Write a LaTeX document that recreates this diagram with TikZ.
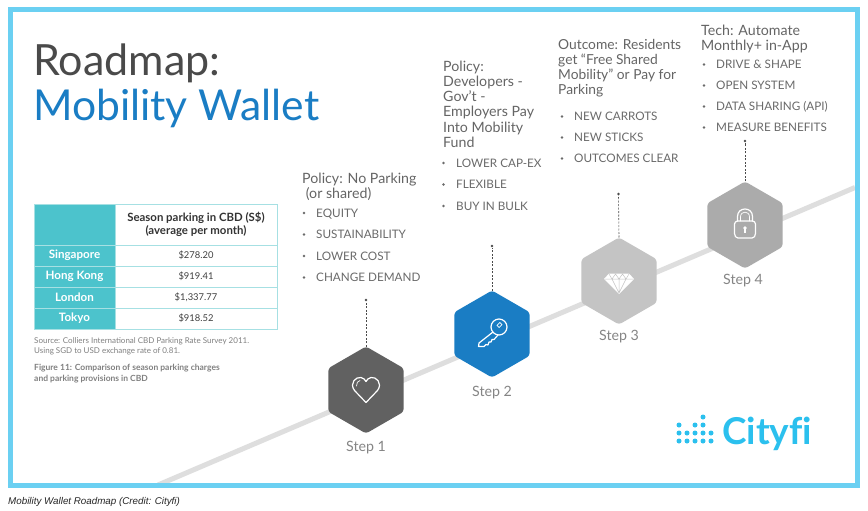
\documentclass[tikz,border=0pt]{standalone}
\usepackage{fontspec}
\setmainfont{Lato}
\newfontfamily\capfont{Liberation Sans}
\usetikzlibrary{shapes.geometric}
\definecolor{frameblue}{HTML}{6BD0F2}
\definecolor{titleblue}{HTML}{1A7DC4}
\definecolor{ink}{HTML}{4A4A4A}
\definecolor{itemink}{HTML}{6A6A6A}
\definecolor{stepgrey}{HTML}{858585}
\definecolor{teal}{HTML}{4CC3CC}
\definecolor{teallight}{HTML}{A6E0E3}
\definecolor{logoblue}{HTML}{2BC0EE}
\tikzset{
  x=1pt,y=-1pt,
  hexa/.style={regular polygon,regular polygon sides=6,shape border rotate=30,minimum size=87pt,inner sep=0pt,outer sep=0pt,fill=#1,rounded corners=3pt},
  head/.style={anchor=base west,font=\fontsize{14.2}{16}\selectfont,text=ink!85,inner sep=0pt},
  headb/.style={head,font=\fontsize{13.8}{16}\selectfont},
  item/.style={anchor=base west,font=\fontsize{11.7}{14}\selectfont,text=itemink,inner sep=0pt},
  itemdot/.style={anchor=center,circle,fill=itemink,inner sep=0pt,minimum size=2.6pt},
  steplabel/.style={anchor=base,font=\fontsize{14.2}{16}\selectfont,text=stepgrey,inner sep=0pt},
  dashline/.style={draw=ink,line width=0.6pt,dash pattern=on 2pt off 1.5pt},
  dotend/.style={circle,fill=ink,inner sep=0pt,minimum size=2.6pt},
  road/.style={draw=black!13,line width=5pt},
  icon/.style={draw=white,line width=1.2pt,line join=round,line cap=round},
  cell/.style={rectangle,draw=teallight,line width=1pt,anchor=north west,inner sep=0pt,outer sep=0pt,align=center},
  rowhead/.style={cell,fill=teal,minimum width=81pt,minimum height=21pt,text=white,font=\bfseries\fontsize{11.6}{13}\selectfont},
  rowval/.style={cell,minimum width=162pt,minimum height=21pt,text=black!75,font=\fontsize{9.4}{11}\selectfont},
  note/.style={anchor=base west,inner sep=0pt,text=black!50,font=\fontsize{8}{9}\selectfont},
  notebold/.style={note,font=\bfseries\fontsize{8.5}{9}\selectfont},
  logodot/.style={fill=logoblue},
}
\newcommand{\bul}[5]{%
  \node[itemdot] (#1d) at (#2,#4-4) {};
  \node[item] (#1t) at (#3,#4) {#5};}
\begin{document}
\begin{tikzpicture}
\useasboundingbox (0,0) rectangle (868,511);
\fill[white] (0,0) rectangle (868,511);
% road
\coordinate (roadA) at (158,485);
\coordinate (roadB) at (855,187.5);
\draw[road] (roadA) -- (roadB);
% frame
\draw[frameblue,line width=5.5pt] (10.7,9.7) rectangle (857.3,485.5);
% title
\node[anchor=base west,inner sep=0pt,font=\fontsize{43}{44}\selectfont,text=ink] (t1) at (33,76) {Roadmap:};
\node[anchor=base west,inner sep=0pt,font=\fontsize{42.6}{44}\selectfont,text=titleblue] (t2) at (33,121) {Mobility Wallet};
% table
\node[cell,fill=teal,minimum width=81pt,minimum height=41pt] (c0) at (34,204) {};
\node[cell,minimum width=162pt,minimum height=41pt,text=black!80,font=\bfseries\fontsize{11.4}{13}\selectfont] (h0) at (115,204) {Season parking in CBD (S\$)\\(average per month)};
\node[rowhead] (r1) at (34,245) {Singapore};
\node[rowval] (v1) at (115,245) {\$278.20};
\node[rowhead] (r2) at (34,266) {Hong Kong};
\node[rowval] (v2) at (115,266) {\$919.41};
\node[rowhead] (r3) at (34,287) {London};
\node[rowval] (v3) at (115,287) {\$1,337.77};
\node[rowhead] (r4) at (34,308) {Tokyo};
\node[rowval] (v4) at (115,308) {\$918.52};
\node[note] (n1) at (34,343) {Source: Colliers International CBD Parking Rate Survey 2011.};
\node[note] (n2) at (34,353) {Using SGD to USD exchange rate of 0.81.};
\node[notebold] (n3) at (34,370) {Figure 11: Comparison of season parking charges};
\node[notebold] (n4) at (34,381) {and parking provisions in CBD};
% hexagons
\node[hexa=black!62] (s1) at (366,390) {};
\node[hexa=titleblue] (s2) at (492,334) {};
\node[hexa=black!23] (s3) at (619,281) {};
\node[hexa=black!33] (s4) at (745,225) {};
% dashed connectors
\node[dotend] (p1) at (366,300) {};
\node[dotend] (p2) at (492,246) {};
\node[dotend] (p3) at (618.5,194) {};
\node[dotend] (p4) at (745,141) {};
\draw[dashline] (s1.north) -- (p1);
\draw[dashline] (s2.north) -- (p2);
\draw[dashline] (s3.north) -- (p3);
\draw[dashline] (s4.north) -- (p4);
% step labels
\node[steplabel] (l1) at (366,451) {Step 1};
\node[steplabel] (l2) at (492,396) {Step 2};
\node[steplabel] (l3) at (619,340) {Step 3};
\node[steplabel] (l4) at (743,284) {Step 4};
% heart
\draw[icon] (366,402.5) -- (354.5,390.5) .. controls (349,383) and (356,376.5) .. (361,377.5) .. controls (363.5,378) and (365,379.5) .. (366,381.5) .. controls (367,379.5) and (368.5,378) .. (371,377.5) .. controls (376,376.5) and (383,383) .. (377.5,390.5) -- cycle;
\draw[icon,line width=.7pt] (356.5,386) .. controls (356.2,383) and (358,381) .. (360,380.5);
% key
\draw[icon] (499,327) circle[radius=8pt];
\draw[icon,line width=.8pt,rotate around={45:(499.5,325)}] (497.5,323.5) rectangle (501.5,326.5);
\draw[icon] (493,332) -- (479,343) -- (478.5,346.5) -- (484,346.5) -- (486,344.5) -- (488,345) -- (489,342) -- (491,342) -- (492,339.5) -- (494,339.5) -- (498,335);
% diamond
\fill[white] (609,273.5) -- (629,273.5) -- (634,279) -- (619,294) -- (604,279) -- cycle;
\draw[black!23,line width=.5pt] (604.5,279) -- (633.5,279) (612,279) -- (619,293) (619,279) -- (619,293) (626,279) -- (619,293) (609,274) -- (612,279) -- (615.5,274) -- (619,279) -- (622.5,274) -- (626,279) -- (629,274);
% lock
\draw[icon] (737.5,221) -- (752.5,221) .. controls (754,221) and (755.5,222.5) .. (755.5,224) -- (755.5,233.5) .. controls (755.5,236) and (754,238) .. (752,238) -- (738,238) .. controls (736,238) and (734.5,236) .. (734.5,233.5) -- (734.5,224) .. controls (734.5,222.5) and (736,221) .. (737.5,221) -- cycle;
\draw[icon] (737.5,221) -- (737.5,216.5) .. controls (737.5,206.5) and (752.5,206.5) .. (752.5,216.5) -- (752.5,221);
\draw[icon,line width=.7pt] (740.5,221) -- (740.5,217) .. controls (740.5,210.5) and (749.5,210.5) .. (749.5,217) -- (749.5,221);
\fill[white] (745,228) circle[radius=1.8pt];
\fill[white] (744.2,228) rectangle (745.8,232.5);
% step 1 text
\node[head] (a1) at (302,183) {Policy: No Parking};
\node[head] (a2) at (302,198.5) {\ (or shared)};
\bul{a3}{304}{316}{217}{EQUITY}
\bul{a4}{304}{316}{238.5}{SUSTAINABILITY}
\bul{a5}{304}{316}{260}{LOWER COST}
\bul{a6}{304}{316}{281.5}{CHANGE DEMAND}
% step 2 text
\node[head] (b1) at (443,71) {Policy:};
\node[head] (b2) at (443,86.5) {Developers -};
\node[head] (b3) at (443,102) {Gov’t -};
\node[head] (b4) at (443,117) {Employers Pay};
\node[head] (b5) at (443,132) {Into Mobility};
\node[head] (b6) at (443,147) {Fund};
\bul{b7}{443.5}{456}{167}{LOWER CAP-EX}
\bul{b8}{443.5}{456}{188.5}{FLEXIBLE}
\bul{b9}{443.5}{456}{210}{BUY IN BULK}
% step 3 text
\node[headb] (e1) at (558,50) {Outcome: Residents};
\node[headb] (e2) at (558,65) {get “Free Shared};
\node[headb] (e3) at (558,80) {Mobility” or Pay for};
\node[headb] (e4) at (558,94.5) {Parking};
\bul{e5}{562}{574}{120.5}{NEW CARROTS}
\bul{e6}{562}{574}{141.5}{NEW STICKS}
\bul{e7}{562}{574}{162.5}{OUTCOMES CLEAR}
% step 4 text
\node[head] (f1) at (701,36) {Tech: Automate};
\node[head] (f2) at (701,51) {Monthly+ in-App};
\bul{f3}{704}{716}{68.5}{DRIVE \& SHAPE}
\bul{f4}{704}{716}{89.5}{OPEN SYSTEM}
\bul{f5}{704}{716}{110.5}{DATA SHARING (API)}
\bul{f6}{704}{716}{131.5}{MEASURE BENEFITS}
% logo
\foreach \px/\py in {679/425,679/433,679/441,687/433,687/441,695/425,695/433,695/441,703/417,703/425,703/433,703/441,711/433,711/441}
  \fill[logodot] (\px,\py) circle[radius=2.5pt];
\node[anchor=base west,inner sep=0pt,font=\bfseries\fontsize{37}{40}\selectfont,text=logoblue] (logo) at (722,444) {Cityf\kern0pt i};
% caption
\node[anchor=base west,inner sep=0pt,font=\capfont\itshape\fontsize{9.8}{11}\selectfont,text=black!85] (cap) at (8,504) {Mobility Wallet Roadmap (Credit: Cityfi)};
\end{tikzpicture}
\end{document}
